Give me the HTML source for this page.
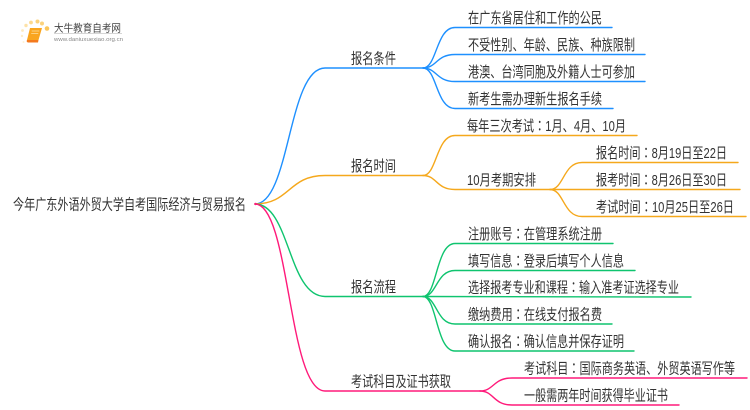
<!DOCTYPE html>
<html><head><meta charset="utf-8"><style>
html,body{margin:0;padding:0;background:#fff;width:750px;height:410px;overflow:hidden}
svg{display:block}
text{font-family:"Liberation Sans","Noto Sans CJK SC",sans-serif;font-size:15px;fill:#333}
tspan.c{font-family:"Noto Sans CJK TC",sans-serif}
path{fill:none;stroke-width:1.4;stroke-linecap:round}
.b{stroke:#1e90ff}.o{stroke:#f5a81c}.g{stroke:#0fc46f}.p{stroke:#ff1a7a}
</style></head><body>
<svg width="750" height="410" viewBox="0 0 750 410" xmlns="http://www.w3.org/2000/svg">
<!-- logo -->
<g>
<circle cx="47" cy="28.500" r="2.300" fill="#fbc65a"/><circle cx="42" cy="23.500" r="2" fill="#fbd27c"/><circle cx="37.500" cy="21.500" r="2" fill="#fbd27c"/><circle cx="31" cy="22.500" r="1.900" fill="#fcd98f"/><circle cx="26" cy="25.500" r="1.700" fill="#fde2a8"/><circle cx="22.500" cy="30.500" r="1.400" fill="#fdeac0"/><circle cx="22" cy="36" r="1.200" fill="#fdeeca"/><circle cx="23.500" cy="42" r="1" fill="#fef2d6"/>
<path d="M30 28 L42 28 L38.500 40 L27 40 Z" style="fill:#f9a51f;stroke:none"/>
<path d="M27 40 L38.500 40 L38 42.500 L28 42.500 Q26 42 27 40 Z" style="fill:#f47a1d;stroke:none"/>
<path d="M32 31 L39 31 M31.500 33.500 L38 33.500" style="stroke:#fde0a0;stroke-width:.8"/>
<text x="54" y="31.500" textLength="67" lengthAdjust="spacingAndGlyphs" style="font-size:10.500px;fill:#444">大牛教育自考网</text>
<rect x="54" y="33" width="68" height="0.800" fill="#ccc"/>
<text x="54" y="41" textLength="69" lengthAdjust="spacingAndGlyphs" style="font-size:5.500px;fill:#888">www.daniuxuexiao.org.cn</text>
</g>
<!-- root -->
<text x="13" y="209.500" textLength="233" lengthAdjust="spacingAndGlyphs">今年广东外语外贸大学自考国际经济与贸易报名</text>
<!-- main branches -->
<path class="b" d="M255 204 C290 204 288 68 325 68 L423 68"/>
<path class="o" d="M255 204 C290 204 288 175.500 325 175.500 L423 175.500"/>
<path class="g" d="M255 204 C290 204 288 296.500 325 296.500 L423 296.500"/>
<path class="p" d="M255 204 C290 204 288 391 325 391 L480 391"/>
<!-- blue -->
<path class="b" d="M423 68 C437 68 436 27.500 455 27.500 L612 27.500"/>
<path class="b" d="M423 68 C437 68 436 54.500 455 54.500 L645 54.500"/>
<path class="b" d="M423 68 C437 68 436 81.500 455 81.500 L645 81.500"/>
<path class="b" d="M423 68 C437 68 436 108.500 455 108.500 L613 108.500"/>
<!-- orange -->
<path class="o" d="M423 175.500 C437 175.500 436 135.500 455 135.500 L637 135.500"/>
<path class="o" d="M423 175.500 C437 175.500 436 189.500 455 189.500 L550 189.500"/>
<path class="o" d="M550 189.500 C564 189.500 563 162.500 582 162.500 L738 162.500"/>
<path class="o" d="M550 189.500 L740 189.500"/>
<path class="o" d="M550 189.500 C564 189.500 563 216.500 582 216.500 L746 216.500"/>
<!-- green -->
<path class="g" d="M423 296.500 C437 296.500 436 243.500 455 243.500 L613 243.500"/>
<path class="g" d="M423 296.500 C437 296.500 436 270.500 455 270.500 L635 270.500"/>
<path class="g" d="M423 296.500 L691 297"/>
<path class="g" d="M423 296.500 C437 296.500 436 324 455 324 L612 324"/>
<path class="g" d="M423 296.500 C437 296.500 436 351 455 351 L634 351"/>
<!-- pink -->
<path class="p" d="M480 391 C494 391 493 378 512 378 L747 378"/>
<path class="p" d="M480 391 C494 391 493 405 512 405 L679 405"/>
<circle cx="255.500" cy="204" r="1.200" fill="#ff1a7a"/>
<!-- level 2 -->
<text x="351" y="63.500" textLength="45" lengthAdjust="spacingAndGlyphs">报名条件</text>
<text x="351" y="171" textLength="45" lengthAdjust="spacingAndGlyphs">报名时间</text>
<text x="351" y="292" textLength="45" lengthAdjust="spacingAndGlyphs">报名流程</text>
<text x="351" y="386.500" textLength="100" lengthAdjust="spacingAndGlyphs">考试科目及证书获取</text>
<!-- leaves -->
<text x="468" y="23" textLength="134" lengthAdjust="spacingAndGlyphs">在广东省居住和工作的公民</text>
<text x="468" y="50" textLength="167" lengthAdjust="spacingAndGlyphs">不受性别、年龄、民族、种族限制</text>
<text x="468" y="77" textLength="167" lengthAdjust="spacingAndGlyphs">港澳、台湾同胞及外籍人士可参加</text>
<text x="468" y="104" textLength="134" lengthAdjust="spacingAndGlyphs">新考生需办理新生报名手续</text>
<text x="467" y="131" textLength="159" lengthAdjust="spacingAndGlyphs">每年三次考试<tspan class="c">：</tspan>1月、4月、10月</text>
<text x="467" y="185" textLength="69" lengthAdjust="spacingAndGlyphs">10月考期安排</text>
<text x="596" y="158" textLength="131" lengthAdjust="spacingAndGlyphs">报名时间<tspan class="c">：</tspan>8月19日至22日</text>
<text x="596" y="185" textLength="131" lengthAdjust="spacingAndGlyphs">报考时间<tspan class="c">：</tspan>8月26日至30日</text>
<text x="596" y="212" textLength="138" lengthAdjust="spacingAndGlyphs">考试时间<tspan class="c">：</tspan>10月25日至26日</text>
<text x="468" y="239" textLength="134" lengthAdjust="spacingAndGlyphs">注册账号<tspan class="c">：</tspan>在管理系统注册</text>
<text x="468" y="266" textLength="156" lengthAdjust="spacingAndGlyphs">填写信息<tspan class="c">：</tspan>登录后填写个人信息</text>
<text x="468" y="292.500" textLength="211" lengthAdjust="spacingAndGlyphs">选择报考专业和课程<tspan class="c">：</tspan>输入准考证选择专业</text>
<text x="468" y="319.500" textLength="134" lengthAdjust="spacingAndGlyphs">缴纳费用<tspan class="c">：</tspan>在线支付报名费</text>
<text x="468" y="346.500" textLength="156" lengthAdjust="spacingAndGlyphs">确认报名<tspan class="c">：</tspan>确认信息并保存证明</text>
<text x="524" y="373.500" textLength="211" lengthAdjust="spacingAndGlyphs">考试科目<tspan class="c">：</tspan>国际商务英语、外贸英语写作等</text>
<text x="524" y="400.500" textLength="144" lengthAdjust="spacingAndGlyphs">一般需两年时间获得毕业证书</text>
</svg>
</body></html>
